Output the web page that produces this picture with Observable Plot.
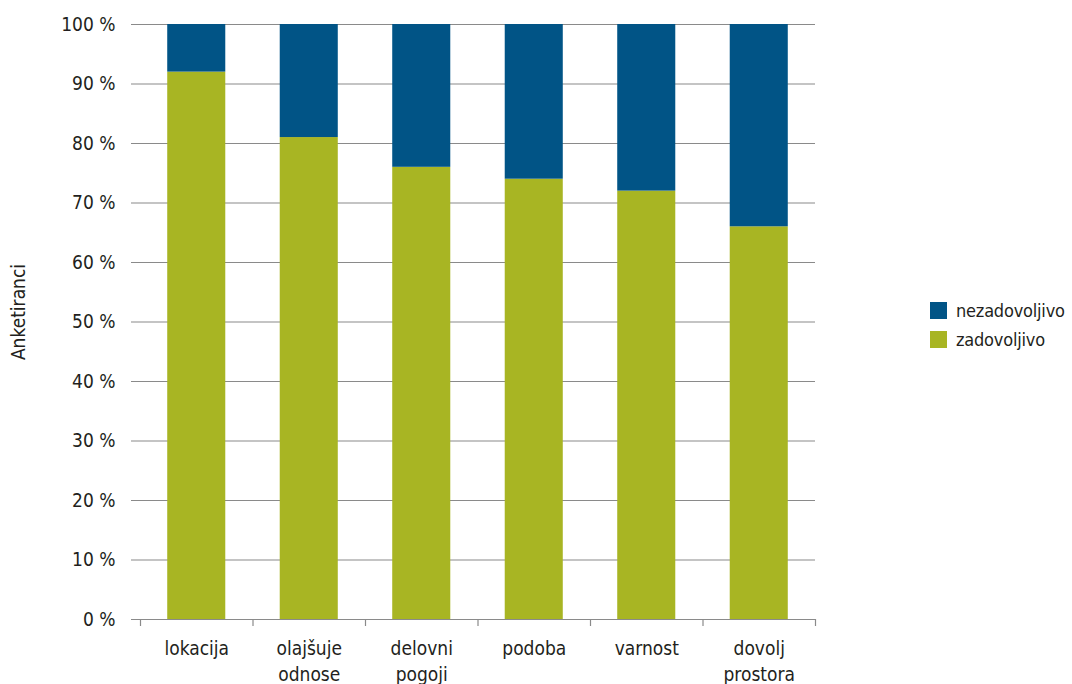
<!DOCTYPE html>
<html>
<head>
<meta charset="utf-8">
<script src="https://cdn.jsdelivr.net/npm/d3@7"></script>
<script src="https://cdn.jsdelivr.net/npm/@observablehq/plot@0.6"></script>
<style>
  html, body { margin: 0; padding: 0; background: #fff; }
  #wrap { position: relative; width: 1072px; height: 684px; font-family: "Liberation Sans Narrow", "DejaVu Sans Condensed", "Roboto Condensed", sans-serif; color: #231f20; }
  #legend { position: absolute; left: 930px; top: 296px; font-size: 18px; line-height: 29px; letter-spacing: -0.2px; }
  #legend .item { display: flex; align-items: center; white-space: nowrap; }
  #legend .sw { width: 17px; height: 17px; margin-right: 9px; display: inline-block; }
</style>
</head>
<body>
<div id="wrap"><div id="legend"></div></div>
<script>
// Categories (axis labels may wrap onto two lines)
const categories = ["lokacija", "olajšuje\nodnose", "delovni\npogoji", "podoba", "varnost", "dovolj\nprostora"];
// Share of respondents (%)
const zadovoljivo = [92, 81, 76, 74, 72, 66];
const nezadovoljivo = [8, 19, 24, 26, 28, 34];
const series = ["zadovoljivo", "nezadovoljivo"];
const colors = {zadovoljivo: "#a8b523", nezadovoljivo: "#015486"};
const yTicks = [0, 10, 20, 30, 40, 50, 60, 70, 80, 90, 100];

const rows = [];
categories.forEach((c, i) => {
  rows.push({cat: c, group: "zadovoljivo", value: zadovoljivo[i]});
  rows.push({cat: c, group: "nezadovoljivo", value: nezadovoljivo[i]});
});

const font = '"Liberation Sans Narrow", "DejaVu Sans Condensed", "Roboto Condensed", sans-serif';
const step = (815 - 140) / categories.length;
const fs = 19;

const chart = Plot.plot({
  width: 1072,
  height: 684,
  marginLeft: 140,
  marginRight: 257,
  marginTop: 24,
  marginBottom: 65,
  style: {fontFamily: font, fontSize: fs + "px", color: "#231f20", background: "#fff"},
  x: {domain: categories, paddingInner: 0.484, paddingOuter: 0.242, round: false, axis: null},
  y: {domain: [0, 100], axis: null},
  color: {domain: series, range: series.map(s => colors[s])},
  marks: [
    // horizontal gridlines, extending left as ticks
    Plot.ruleY(yTicks, {y: d => d, stroke: "#8a8a8a", strokeWidth: 1.2, insetLeft: -9}),
    // stacked bars
    Plot.barY(rows, {x: "cat", y: "value", fill: "group", order: series}),
    // y axis line
    Plot.ruleX([0], {frameAnchor: "left", stroke: "#8a8a8a", strokeWidth: 1.2}),
    // y tick labels
    Plot.text(yTicks, {y: d => d, text: d => `${d} %`, frameAnchor: "left", dx: -25, textAnchor: "end", fill: "#231f20", fontSize: fs}),
    // x axis line at zero
    Plot.ruleY([0], {stroke: "#8a8a8a", strokeWidth: 1.2}),
    // x ticks at band boundaries
    Plot.ruleX(categories, {x: d => d, dx: -step / 2, insetTop: 595, insetBottom: -7, stroke: "#8a8a8a", strokeWidth: 1.2}),
    Plot.ruleX(categories.slice(-1), {x: d => d, dx: step / 2, insetTop: 595, insetBottom: -7, stroke: "#8a8a8a", strokeWidth: 1.2}),
    // x labels
    Plot.text(categories, {x: d => d, text: d => d, frameAnchor: "bottom", dy: 17, lineAnchor: "top", lineHeight: 1.37, fill: "#231f20", fontSize: fs}),
    // y axis title
    Plot.text(["Anketiranci"], {frameAnchor: "left", text: d => d, rotate: -90, textAnchor: "middle", dx: -122, dy: -10, fill: "#231f20", fontSize: fs})
  ]
});

const wrap = document.getElementById("wrap");
wrap.insertBefore(chart, wrap.firstChild);

const legend = document.getElementById("legend");
["nezadovoljivo", "zadovoljivo"].forEach(s => {
  const item = document.createElement("div");
  item.className = "item";
  const sw = document.createElement("span");
  sw.className = "sw";
  sw.style.background = colors[s];
  const label = document.createElement("span");
  label.textContent = s;
  item.appendChild(sw);
  item.appendChild(label);
  legend.appendChild(item);
});
</script>
</body>
</html>
